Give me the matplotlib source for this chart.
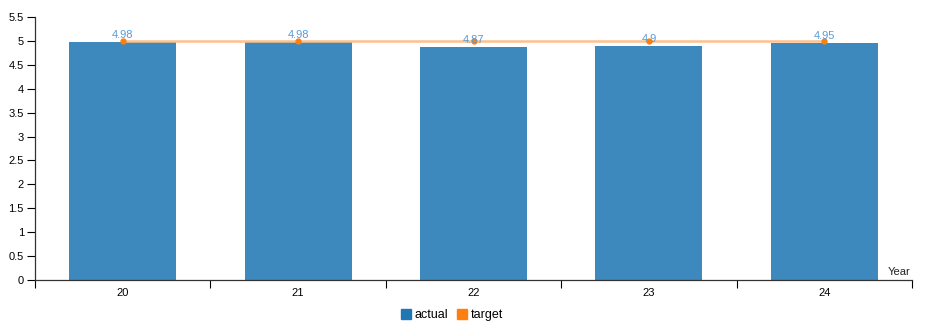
import matplotlib.pyplot as plt
from matplotlib.patches import Patch
import numpy as np

plt.rcParams['font.family'] = ['Liberation Sans', 'DejaVu Sans']

# data
years = ['20', '21', '22', '23', '24']
actual = [4.98, 4.98, 4.87, 4.9, 4.95]
target = [5, 5, 5, 5, 5]

bar_color = '#3d89be'
label_color = '#5a9bd4'
target_color = '#ff7f0e'
line_color = '#ffc08a'

fig = plt.figure(figsize=(9.3, 3.27), dpi=100)
ax = fig.add_axes([35/930, 47/327, 877/930, 263/327])

x = np.arange(len(years))
ax.bar(x, actual, width=0.61, color=bar_color, zorder=2)
for xi, v in zip(x, actual):
    ax.text(xi, v + 0.04, f'{v:g}', ha='center', va='bottom', fontsize=8,
            color=label_color, zorder=5)

ax.plot(x, target, color=line_color, lw=1.8, zorder=3)
ax.plot(x, target, 'o', color=target_color, ms=3.5, zorder=4)

ax.set_xlim(-0.5, len(years) - 0.5)
ax.set_ylim(0, 5.5)
ax.set_yticks(np.arange(0, 5.51, 0.5))
ax.set_yticklabels([f'{t:g}' for t in np.arange(0, 5.51, 0.5)])

# band boundaries get tick marks, labels sit at centres
ax.set_xticks(np.arange(-0.5, len(years), 1.0))
ax.set_xticklabels([])
ax.set_xticks(x, minor=True)
ax.set_xticklabels(years, minor=True)
ax.tick_params(axis='x', which='minor', length=0, pad=6, labelsize=8)
ax.tick_params(axis='x', which='major', length=6, width=0.8, direction='out')
ax.tick_params(axis='y', length=6, width=0.8, labelsize=8, pad=2)

for s in ['top', 'right']:
    ax.spines[s].set_visible(False)
for s in ['left', 'bottom']:
    ax.spines[s].set_color('#333333')
    ax.spines[s].set_linewidth(0.9)

ax.text(0.998, 0.012, 'Year', transform=ax.transAxes, ha='right', va='bottom',
        fontsize=8, color='#222222')

handles = [Patch(color='#1f77b4', label='actual'), Patch(color=target_color, label='target')]
fig.legend(handles=handles, loc='center', bbox_to_anchor=(452/930, 1 - 315/327),
           ncol=2, frameon=False, fontsize=9, handlelength=0.8, handleheight=0.9,
           handletextpad=0.3, columnspacing=0.7)

fig.savefig('out.png', dpi=100)
